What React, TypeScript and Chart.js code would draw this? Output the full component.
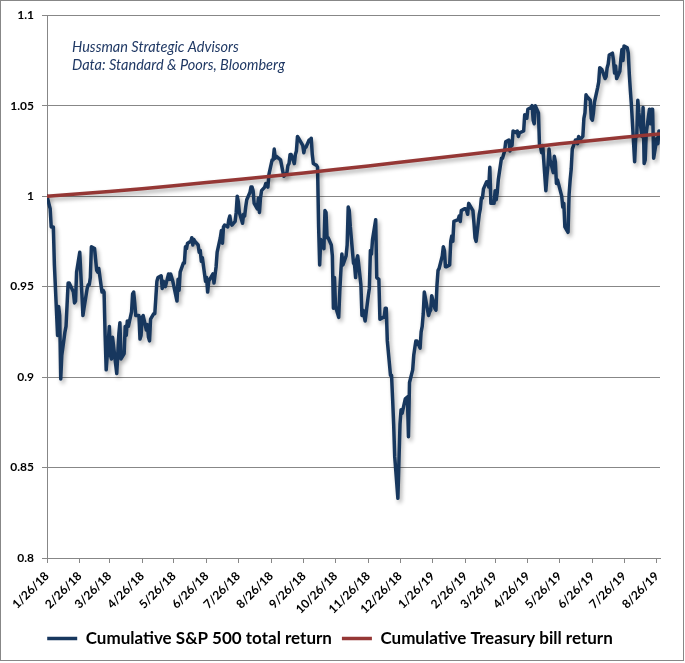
import React, { useEffect, useRef } from "react";
import { Chart, registerables } from "chart.js";

Chart.register(...registerables);

// ---------- data ----------
const xTickLabels = [
  "1/26/18", "2/26/18", "3/26/18", "4/26/18", "5/26/18", "6/26/18", "7/26/18",
  "8/26/18", "9/26/18", "10/26/18", "11/26/18", "12/26/18", "1/26/19", "2/26/19",
  "3/26/19", "4/26/19", "5/26/19", "6/26/19", "7/26/19", "8/26/19",
];
const xStart = "1/26/18";
const xEnd = "8/29/19";

const yMin = 0.8;
const yMax = 1.1;
const yStep = 0.05;

const noteLines = ["Hussman Strategic Advisors", "Data: Standard & Poors, Bloomberg"];

const spxLabel = "Cumulative S&P 500 total return";
const tbillLabel = "Cumulative Treasury bill return";

const spxDates = [
  "1/26/18", "1/29/18", "1/30/18", "1/31/18",
  "2/1/18", "2/2/18", "2/5/18", "2/6/18", "2/7/18", "2/8/18", "2/9/18", "2/12/18", "2/13/18", "2/14/18", "2/15/18", "2/16/18", "2/20/18", "2/21/18", "2/22/18", "2/23/18", "2/26/18", "2/27/18", "2/28/18",
  "3/1/18", "3/2/18", "3/5/18", "3/6/18", "3/7/18", "3/8/18", "3/9/18", "3/12/18", "3/13/18", "3/14/18", "3/15/18", "3/16/18", "3/19/18", "3/20/18", "3/21/18", "3/22/18", "3/23/18", "3/26/18", "3/27/18", "3/28/18", "3/29/18",
  "4/2/18", "4/3/18", "4/4/18", "4/5/18", "4/6/18", "4/9/18", "4/10/18", "4/11/18", "4/12/18", "4/13/18", "4/16/18", "4/17/18", "4/18/18", "4/19/18", "4/20/18", "4/23/18", "4/24/18", "4/25/18", "4/26/18", "4/27/18", "4/30/18",
  "5/1/18", "5/2/18", "5/3/18", "5/4/18", "5/7/18", "5/8/18", "5/9/18", "5/10/18", "5/11/18", "5/14/18", "5/15/18", "5/16/18", "5/17/18", "5/18/18", "5/21/18", "5/22/18", "5/23/18", "5/24/18", "5/25/18", "5/29/18", "5/30/18", "5/31/18",
  "6/1/18", "6/4/18", "6/5/18", "6/6/18", "6/7/18", "6/8/18", "6/11/18", "6/12/18", "6/13/18", "6/14/18", "6/15/18", "6/18/18", "6/19/18", "6/20/18", "6/21/18", "6/22/18", "6/25/18", "6/26/18", "6/27/18", "6/28/18", "6/29/18",
  "7/2/18", "7/3/18", "7/5/18", "7/6/18", "7/9/18", "7/10/18", "7/11/18", "7/12/18", "7/13/18", "7/16/18", "7/17/18", "7/18/18", "7/19/18", "7/20/18", "7/23/18", "7/24/18", "7/25/18", "7/26/18", "7/27/18", "7/30/18", "7/31/18",
  "8/1/18", "8/2/18", "8/3/18", "8/6/18", "8/7/18", "8/8/18", "8/9/18", "8/10/18", "8/13/18", "8/14/18", "8/15/18", "8/16/18", "8/17/18", "8/20/18", "8/21/18", "8/22/18", "8/23/18", "8/24/18", "8/27/18", "8/28/18", "8/29/18", "8/30/18", "8/31/18",
  "9/4/18", "9/5/18", "9/6/18", "9/7/18", "9/10/18", "9/11/18", "9/12/18", "9/13/18", "9/14/18", "9/17/18", "9/18/18", "9/19/18", "9/20/18", "9/21/18", "9/24/18", "9/25/18", "9/26/18", "9/27/18", "9/28/18",
  "10/1/18", "10/2/18", "10/3/18", "10/4/18", "10/5/18", "10/8/18", "10/9/18", "10/10/18", "10/11/18", "10/12/18", "10/15/18", "10/16/18", "10/17/18", "10/18/18", "10/19/18", "10/22/18", "10/23/18", "10/24/18", "10/25/18", "10/26/18", "10/29/18", "10/30/18", "10/31/18",
  "11/1/18", "11/2/18", "11/5/18", "11/6/18", "11/7/18", "11/8/18", "11/9/18", "11/12/18", "11/13/18", "11/14/18", "11/15/18", "11/16/18", "11/19/18", "11/20/18", "11/21/18", "11/23/18", "11/26/18", "11/27/18", "11/28/18", "11/29/18", "11/30/18",
  "12/3/18", "12/4/18", "12/6/18", "12/7/18", "12/10/18", "12/11/18", "12/12/18", "12/13/18", "12/14/18", "12/17/18", "12/18/18", "12/19/18", "12/20/18", "12/21/18", "12/24/18", "12/26/18", "12/27/18", "12/28/18", "12/31/18",
  "1/2/19", "1/3/19", "1/4/19", "1/7/19", "1/8/19", "1/9/19", "1/10/19", "1/11/19", "1/14/19", "1/15/19", "1/16/19", "1/17/19", "1/18/19", "1/22/19", "1/23/19", "1/24/19", "1/25/19", "1/28/19", "1/29/19", "1/30/19", "1/31/19",
  "2/1/19", "2/4/19", "2/5/19", "2/6/19", "2/7/19", "2/8/19", "2/11/19", "2/12/19", "2/13/19", "2/14/19", "2/15/19", "2/19/19", "2/20/19", "2/21/19", "2/22/19", "2/25/19", "2/26/19", "2/27/19", "2/28/19",
  "3/1/19", "3/4/19", "3/5/19", "3/6/19", "3/7/19", "3/8/19", "3/11/19", "3/12/19", "3/13/19", "3/14/19", "3/15/19", "3/18/19", "3/19/19", "3/20/19", "3/21/19", "3/22/19", "3/25/19", "3/26/19", "3/27/19", "3/28/19", "3/29/19",
  "4/1/19", "4/2/19", "4/3/19", "4/4/19", "4/5/19", "4/8/19", "4/9/19", "4/10/19", "4/11/19", "4/12/19", "4/15/19", "4/16/19", "4/17/19", "4/18/19", "4/22/19", "4/23/19", "4/24/19", "4/25/19", "4/26/19", "4/29/19", "4/30/19",
  "5/1/19", "5/2/19", "5/3/19", "5/6/19", "5/7/19", "5/8/19", "5/9/19", "5/10/19", "5/13/19", "5/14/19", "5/15/19", "5/16/19", "5/17/19", "5/20/19", "5/21/19", "5/22/19", "5/23/19", "5/24/19", "5/28/19", "5/29/19", "5/30/19", "5/31/19",
  "6/3/19", "6/4/19", "6/5/19", "6/6/19", "6/7/19", "6/10/19", "6/11/19", "6/12/19", "6/13/19", "6/14/19", "6/17/19", "6/18/19", "6/19/19", "6/20/19", "6/21/19", "6/24/19", "6/25/19", "6/26/19", "6/27/19", "6/28/19",
  "7/1/19", "7/2/19", "7/3/19", "7/5/19", "7/8/19", "7/9/19", "7/10/19", "7/11/19", "7/12/19", "7/15/19", "7/16/19", "7/17/19", "7/18/19", "7/19/19", "7/22/19", "7/23/19", "7/24/19", "7/25/19", "7/26/19", "7/29/19", "7/30/19", "7/31/19",
  "8/1/19", "8/2/19", "8/5/19", "8/6/19", "8/7/19", "8/8/19", "8/9/19", "8/12/19", "8/13/19", "8/14/19", "8/15/19", "8/16/19", "8/19/19", "8/20/19", "8/21/19", "8/22/19", "8/23/19", "8/26/19", "8/27/19", "8/28/19",
];

const spxValues = [
  1.000, 0.993, 0.983, 0.983,
  0.983, 0.962, 0.923, 0.939, 0.934, 0.899, 0.912, 0.925, 0.928, 0.940, 0.952, 0.952, 0.947, 0.941, 0.942, 0.958, 0.969, 0.957, 0.946,
  0.934, 0.938, 0.949, 0.951, 0.951, 0.955, 0.972, 0.971, 0.965, 0.959, 0.958, 0.960, 0.947, 0.948, 0.947, 0.923, 0.904, 0.928, 0.912, 0.910, 0.922,
  0.902, 0.913, 0.924, 0.930, 0.910, 0.913, 0.928, 0.923, 0.931, 0.928, 0.936, 0.946, 0.947, 0.941, 0.934, 0.934, 0.921, 0.923, 0.933, 0.934, 0.926,
  0.929, 0.922, 0.920, 0.932, 0.935, 0.935, 0.944, 0.953, 0.955, 0.956, 0.949, 0.953, 0.952, 0.950, 0.957, 0.954, 0.957, 0.955, 0.953, 0.942, 0.954, 0.948,
  0.958, 0.963, 0.963, 0.972, 0.971, 0.974, 0.975, 0.977, 0.973, 0.976, 0.975, 0.973, 0.969, 0.970, 0.964, 0.966, 0.953, 0.955, 0.947, 0.953, 0.954,
  0.957, 0.952, 0.961, 0.969, 0.977, 0.981, 0.974, 0.983, 0.984, 0.983, 0.987, 0.989, 0.985, 0.984, 0.986, 0.991, 1.000, 0.997, 0.991, 0.985, 0.990,
  0.989, 0.994, 0.998, 1.002, 1.005, 1.005, 1.003, 0.996, 0.993, 0.999, 0.991, 0.999, 1.003, 1.005, 1.007, 1.007, 1.005, 1.012, 1.020, 1.020, 1.026, 1.021, 1.022,
  1.020, 1.017, 1.014, 1.011, 1.013, 1.017, 1.018, 1.023, 1.023, 1.018, 1.023, 1.025, 1.033, 1.032, 1.029, 1.028, 1.024, 1.027, 1.027,
  1.031, 1.031, 1.032, 1.023, 1.018, 1.017, 1.016, 0.983, 0.962, 0.976, 0.971, 0.992, 0.991, 0.977, 0.977, 0.973, 0.967, 0.938, 0.955, 0.939, 0.933, 0.947, 0.958,
  0.968, 0.962, 0.967, 0.973, 0.994, 0.992, 0.983, 0.963, 0.962, 0.955, 0.965, 0.967, 0.951, 0.934, 0.937, 0.931, 0.945, 0.949, 0.970, 0.968, 0.976,
  0.987, 0.955, 0.954, 0.932, 0.933, 0.933, 0.938, 0.938, 0.920, 0.901, 0.901, 0.888, 0.874, 0.856, 0.833, 0.874, 0.882, 0.880, 0.888,
  0.889, 0.867, 0.897, 0.904, 0.912, 0.916, 0.920, 0.920, 0.916, 0.925, 0.928, 0.935, 0.947, 0.934, 0.936, 0.937, 0.945, 0.938, 0.937, 0.951, 0.959,
  0.960, 0.967, 0.972, 0.970, 0.961, 0.961, 0.962, 0.975, 0.978, 0.975, 0.986, 0.987, 0.989, 0.986, 0.992, 0.993, 0.993, 0.992, 0.990,
  0.996, 0.993, 0.992, 0.985, 0.977, 0.975, 0.990, 0.993, 0.999, 0.999, 1.004, 1.008, 1.008, 1.005, 1.016, 0.996, 0.996, 1.003, 0.998, 1.002, 1.009,
  1.021, 1.021, 1.023, 1.025, 1.030, 1.031, 1.025, 1.028, 1.028, 1.036, 1.035, 1.036, 1.033, 1.035, 1.036, 1.045, 1.043, 1.043, 1.048, 1.049, 1.050,
  1.042, 1.040, 1.050, 1.046, 1.028, 1.027, 1.024, 1.028, 1.003, 1.011, 1.017, 1.026, 1.020, 1.013, 1.022, 1.019, 1.007, 1.009, 1.000, 0.994, 0.996, 0.983,
  0.980, 1.001, 1.009, 1.015, 1.026, 1.031, 1.031, 1.029, 1.033, 1.031, 1.033, 1.043, 1.046, 1.056, 1.055, 1.053, 1.043, 1.042, 1.046, 1.052,
  1.060, 1.063, 1.071, 1.070, 1.065, 1.066, 1.071, 1.073, 1.078, 1.079, 1.075, 1.068, 1.072, 1.065, 1.069, 1.076, 1.081, 1.075, 1.083, 1.082, 1.079, 1.067,
  1.058, 1.050, 1.019, 1.032, 1.033, 1.053, 1.046, 1.033, 1.049, 1.018, 1.020, 1.035, 1.048, 1.040, 1.048, 1.048, 1.021, 1.032, 1.029, 1.036,
];

const tbillDates = [
  "1/26/18", "2/26/18", "3/26/18", "4/26/18", "5/26/18", "6/26/18", "7/26/18",
  "8/26/18", "9/26/18", "10/26/18", "11/26/18", "12/26/18", "1/26/19", "2/26/19",
  "3/26/19", "4/26/19", "5/26/19", "6/26/19", "7/26/19", "8/28/19",
];
const tbillValues = [
  1.0000, 1.0013, 1.0026, 1.0041, 1.0058, 1.0075, 1.0092,
  1.0110, 1.0128, 1.0147, 1.0167, 1.0187, 1.0208, 1.0229,
  1.0248, 1.0269, 1.0289, 1.0308, 1.0326, 1.0344,
];

// ---------- helpers ----------
const ORIGIN = (() => {
  const [m, d, y] = xStart.split("/").map(Number);
  return Date.UTC(2000 + y, m - 1, d);
})();

function dayNum(s: string): number {
  const [m, d, y] = s.split("/").map(Number);
  return Math.round((Date.UTC(2000 + y, m - 1, d) - ORIGIN) / 86400000);
}

const GRID = "#878787";
const FONT = "Lato, 'Open Sans', sans-serif";

const framePlugin = {
  id: "frame",
  beforeDraw(chart: any) {
    const { ctx, width, height } = chart;
    ctx.save();
    ctx.fillStyle = "#ffffff";
    ctx.fillRect(0, 0, width, height);
    ctx.strokeStyle = GRID;
    ctx.lineWidth = 1;
    ctx.strokeRect(0.5, 0.5, width - 2, height - 3);
    ctx.restore();
  },
};

const shadowPlugin = {
  id: "lineShadow",
  beforeDatasetDraw(chart: any) {
    const ctx = chart.ctx;
    ctx.save();
    ctx.shadowColor = "rgba(0,0,0,0.32)";
    ctx.shadowBlur = 4;
    ctx.shadowOffsetX = 2;
    ctx.shadowOffsetY = 3;
  },
  afterDatasetDraw(chart: any) {
    chart.ctx.restore();
  },
};

const notePlugin = {
  id: "note",
  afterDraw(chart: any) {
    const { ctx, chartArea } = chart;
    ctx.save();
    ctx.font = `italic 14.5px ${FONT}`;
    ctx.fillStyle = "#1F3864";
    ctx.textBaseline = "middle";
    ctx.textAlign = "left";
    noteLines.forEach((line, i) => {
      ctx.fillText(line, chartArea.left + 25, chartArea.top + 32 + i * 18);
    });
    ctx.restore();
  },
};

export default function App() {
  const canvasRef = useRef<HTMLCanvasElement>(null);

  useEffect(() => {
    if (!canvasRef.current) return;
    const spxData = spxDates.map((d, i) => ({ x: dayNum(d), y: spxValues[i] }));
    const tbillData = tbillDates.map((d, i) => ({ x: dayNum(d), y: tbillValues[i] }));

    const chart = new Chart(canvasRef.current, {
      type: "line",
      data: {
        datasets: [
          {
            label: spxLabel,
            data: spxData,
            borderColor: "#17375E",
            backgroundColor: "#17375E",
            borderWidth: 3.5,
            pointRadius: 0,
            pointStyle: "line",
            borderJoinStyle: "round",
            borderCapStyle: "round",
            tension: 0,
            order: 1,
          },
          {
            label: tbillLabel,
            data: tbillData,
            borderColor: "#953735",
            backgroundColor: "#953735",
            borderWidth: 3.5,
            pointRadius: 0,
            pointStyle: "line",
            borderJoinStyle: "round",
            borderCapStyle: "round",
            tension: 0,
            order: 0,
          },
        ],
      },
      options: {
        responsive: false,
        animation: false,
        devicePixelRatio: 1,
        layout: { padding: { left: 0, right: 25, top: 14, bottom: 6 } },
        plugins: {
          legend: {
            position: "bottom",
            labels: {
              usePointStyle: true,
              pointStyle: "line",
              pointStyleWidth: 30,
              boxHeight: 4,
              padding: 10,
              color: "#000000",
              font: { family: FONT, size: 17, weight: "bold" },
              sort: (a: any, b: any) => a.datasetIndex - b.datasetIndex,
            },
          },
          tooltip: { enabled: false },
        },
        scales: {
          x: {
            type: "linear",
            min: dayNum(xStart),
            max: dayNum(xEnd),
            afterBuildTicks: (scale: any) => {
              scale.ticks = xTickLabels.map((l) => ({ value: dayNum(l) }));
            },
            afterFit: (scale: any) => {
              scale.height = 62;
            },
            grid: {
              display: true,
              drawOnChartArea: false,
              drawTicks: true,
              tickLength: 5,
              color: GRID,
            },
            border: { display: true, color: GRID },
            ticks: {
              autoSkip: false,
              minRotation: 45,
              maxRotation: 45,
              padding: 6,
              color: "#000000",
              font: { family: FONT, size: 12, weight: "bold" },
              callback: (_v: any, i: number) => xTickLabels[i],
            },
          },
          y: {
            min: yMin,
            max: yMax,
            afterFit: (scale: any) => {
              scale.width = 47;
            },
            grid: { color: GRID, tickLength: 5, drawTicks: true },
            border: { display: true, color: GRID },
            ticks: {
              stepSize: yStep,
              padding: 8,
              color: "#000000",
              font: { family: FONT, size: 12, weight: "bold" },
              callback: (v: any) => String(Math.round(Number(v) * 100) / 100),
            },
          },
        },
      },
      plugins: [framePlugin, shadowPlugin, notePlugin],
    } as any);

    return () => chart.destroy();
  }, []);

  return (
    <div style={{ position: "fixed", left: 0, top: 0, width: 685, height: 663, background: "#fff" }}>
      <canvas ref={canvasRef} width={685} height={663} style={{ display: "block" }} />
    </div>
  );
}
